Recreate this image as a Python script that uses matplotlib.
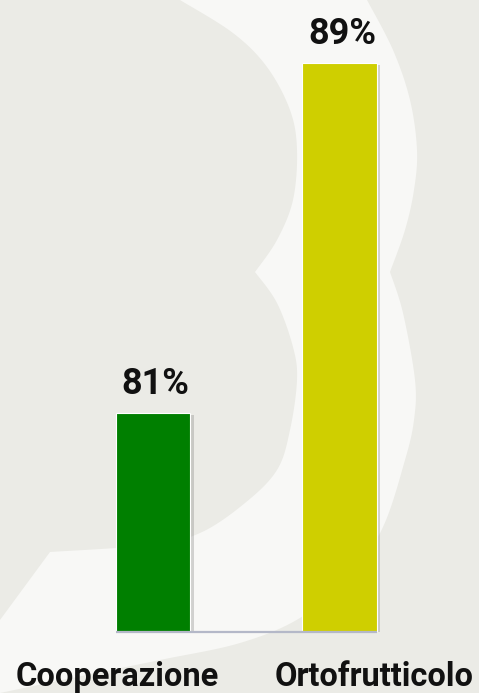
import matplotlib
matplotlib.use("Agg")
import matplotlib.pyplot as plt
import matplotlib.patheffects as pe
import matplotlib.transforms as mtransforms
from matplotlib.patches import Polygon
import numpy as np

categories = ["Cooperazione", "Ortofrutticolo"]
values = [81, 89]
value_labels = ["81%", "89%"]
colors = ["#007f00", "#cfcf00"]

W, H = 479, 693
plt.rcParams['font.family'] = ['Roboto', 'DejaVu Sans']


def smooth(pts, n=12):
    # catmull-rom through the given pixel points, ends kept
    p = np.array(pts, dtype=float)
    p = np.vstack([p[0], p, p[-1]])
    out = []
    for i in range(1, len(p) - 2):
        p0, p1, p2, p3 = p[i - 1], p[i], p[i + 1], p[i + 2]
        for t in np.linspace(0, 1, n, endpoint=False):
            t2, t3 = t * t, t * t * t
            out.append(0.5 * ((2 * p1) + (-p0 + p2) * t + (2 * p0 - 5 * p1 + 4 * p2 - p3) * t2
                              + (-p0 + 3 * p1 - 3 * p2 + p3) * t3))
    out.append(p[-2])
    return out


fig = plt.figure(figsize=(W / 100, H / 100), dpi=100)
fig.patch.set_facecolor("#ebebe6")

# light "B" watermark in the background (pixel outline, top-left origin)
inner_top = [(180, 0), (233, 33), (267, 67), (290, 110), (297, 150), (293, 200), (277, 240), (255, 272)]
inner_bot = [(255, 272), (277, 303), (293, 347), (297, 380), (290, 430), (277, 470), (245, 503),
             (200, 533), (150, 545), (50, 552)]
left_edge = [(50, 552), (0, 620), (0, 693)]
outer_bot = [(0, 693), (67, 679), (160, 660), (240, 643), (300, 618), (350, 577), (383, 527),
             (405, 460), (414, 420), (415, 380), (403, 313), (390, 272)]
outer_top = [(390, 272), (405, 230), (414, 190), (417, 150), (410, 100), (393, 50), (367, 0)]
outline = smooth(inner_top) + smooth(inner_bot) + left_edge + smooth(outer_bot) + smooth(outer_top)
fig.patches.append(Polygon([(x / W, 1 - y / H) for x, y in outline], closed=True,
                           transform=fig.transFigure, facecolor="#f8f8f6",
                           edgecolor="none", zorder=-5))

ax = fig.add_axes([0, 61 / H, 1, 612.5 / H])
ax.set_zorder(2)
ax.set_facecolor("none")
x = list(range(len(categories)))
bars = ax.bar(x, values, width=0.4, color=colors, edgecolor="white", linewidth=0.8,
              zorder=3)
for b in bars:
    b.set_path_effects([pe.SimplePatchShadow(offset=(2.5, -1), shadow_rgbFace="#777777", alpha=0.3),
                        pe.Normal()])

ax.set_ylim(76, 90)
ax.set_xlim(-0.82, 1.748)
ax.plot([-0.2, 1.2], [76, 76], color="#b4b8c8", lw=1.6, zorder=4, solid_capstyle="butt",
        clip_on=False)

for xi, v, lab in zip(x, values, value_labels):
    ax.annotate(lab, (xi, v), xytext=(2, 14), textcoords="offset points",
                ha="center", va="baseline", fontsize=26, fontweight="bold", color="#111111",
                annotation_clip=False)

ax.set_xticks(x)
ax.set_xticklabels(categories, fontsize=23.5, fontweight="bold", color="#111111")
ax.tick_params(axis="x", length=0, pad=21)
ax.set_yticks([])
shifts = [-36, 35]
for lbl, dx in zip(ax.get_xticklabels(), shifts):
    lbl.set_transform(lbl.get_transform() + mtransforms.ScaledTranslation(dx / 100, 0, fig.dpi_scale_trans))
for s in ax.spines.values():
    s.set_visible(False)

fig.savefig("out.png", dpi=100, facecolor=fig.get_facecolor())
